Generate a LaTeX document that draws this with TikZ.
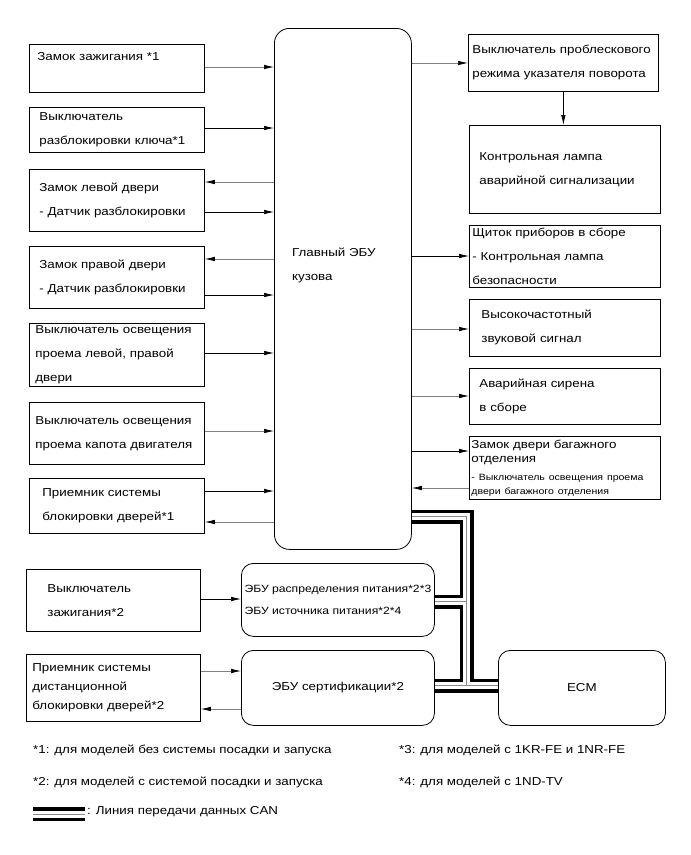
\documentclass[tikz,border=0pt]{standalone}
\usepackage{fontspec}
\setmainfont{Liberation Sans}[FakeStretch=1.16]
\usetikzlibrary{arrows.meta, positioning}
\pgfdeclarelayer{bg}
\pgfsetlayers{bg,main}

\begin{document}
\begin{tikzpicture}[
    x=1pt, y=-1pt,
    lbox/.style={rectangle, draw=black, line width=0.8pt, anchor=north west,
      inner xsep=8pt, inner ysep=0pt, text width=159pt, align=left,
      font=\fontsize{11.5}{24}\selectfont},
    rbox/.style={lbox, text width=175pt},
    ecubox/.style={rectangle, draw=black, line width=0.8pt, rounded corners=12pt,
      anchor=north west, inner xsep=3pt, inner ysep=0pt,
      font=\fontsize{10.5}{22}\selectfont},
    note/.style={anchor=west, inner sep=0pt, font=\fontsize{11.5}{14}\selectfont},
    arw/.style={line width=0.7pt, -{Latex[length=10pt,width=4.5pt,color=black]}},
    arwl/.style={arw, draw=black!50},
    canout/.style={line width=14pt, black},
    canin/.style={line width=7pt, white},
    canmid/.style={line width=0.8pt, black!45}
  ]
  \useasboundingbox (0,0) rectangle (691,855);

  % --- MAIN ECU ---
  \node[ecubox, rounded corners=15pt, minimum width=137pt, minimum height=521pt] (ecu) at (274,28) {};
  \node[note, align=left, font=\fontsize{11.5}{24}\selectfont] (ecutxt) at (292,265) {Главный ЭБУ\\кузова};

  % --- INPUTS (LEFT) ---
  \node[lbox, minimum height=48pt] (b1) at (29,44) {Замок зажигания *1\\\mbox{}};
  \node[lbox, minimum height=45pt, inner xsep=10pt, text width=155pt] (b2) at (29,107) {Выключатель\\разблокировки ключа*1};
  \node[lbox, minimum height=62pt, inner xsep=10pt, text width=155pt] (b3) at (29,169) {Замок левой двери\\- Датчик разблокировки};
  \node[lbox, minimum height=62pt, inner xsep=10pt, text width=155pt] (b4) at (29,246) {Замок правой двери\\- Датчик разблокировки};
  \node[lbox, minimum height=63pt, inner xsep=6pt, text width=163pt] (b5) at (29,323) {Выключатель освещения\\проема левой, правой\\двери};
  \node[lbox, minimum height=62pt, inner xsep=6pt, text width=163pt] (b6) at (29,402) {Выключатель освещения\\проема капота двигателя};
  \node[lbox, minimum height=55pt, inner xsep=13pt, text width=149pt] (b7) at (29,478) {Приемник системы\\блокировки дверей*1};
  \node[lbox, minimum height=62pt, inner xsep=21pt, text width=132pt] (b8) at (26,569) {Выключатель\\зажигания*2};
  \node[lbox, minimum height=67pt, inner xsep=6pt, text width=162pt,
    font=\fontsize{11.5}{19}\selectfont] (b9) at (26,654) {Приемник системы\\дистанционной\\блокировки дверей*2};

  % --- OUTPUTS (RIGHT) ---
  \node[rbox, minimum height=57pt, inner xsep=4pt, text width=182pt] (r1) at (468,34) {Выключатель проблескового\\режима указателя поворота};
  \node[rbox, minimum height=88pt, inner xsep=10pt, text width=171pt] (r2) at (469,125) {Контрольная лампа\\аварийной сигнализации};
  \node[rbox, minimum height=62pt, inner xsep=3pt, text width=185pt] (r3) at (469,225) {Щиток приборов в сборе\\- Контрольная лампа\\безопасности};
  \node[rbox, minimum height=57pt, inner xsep=12pt, text width=167pt] (r4) at (469,299) {Высокочастотный\\звуковой сигнал};
  \node[rbox, minimum height=56pt, inner xsep=10pt, text width=171pt] (r5) at (469,368) {Аварийная сирена\\в сборе};
  \node[rbox, minimum height=63pt, inner xsep=2pt, text width=187pt,
    font=\fontsize{11.5}{14}\selectfont] (r6) at (469,436) {Замок двери багажного\\отделения\\[4pt]{\fontsize{9.1}{13}\selectfont - Выключатель освещения проема}\\{\fontsize{9.1}{13}\selectfont двери багажного отделения}};

  % --- LOWER ECUS ---
  \node[ecubox, minimum width=193pt, minimum height=73pt, align=left] (pwr) at (241,563) {ЭБУ распределения питания*2*3\\ЭБУ источника питания*2*4};
  \node[ecubox, minimum width=193pt, minimum height=75pt, align=center, font=\fontsize{11.5}{14}\selectfont] (cert) at (241,650) {ЭБУ сертификации*2};
  \node[ecubox, minimum width=167pt, minimum height=75pt, align=center, font=\fontsize{11.5}{14}\selectfont] (ecm) at (498,650) {ECM};

  % --- ARROWS LEFT ---
  \draw[arwl] (b1.east |- 0,67) -- (ecu.west |- 0,67);
  \draw[arw] (b2.east |- 0,128) -- (ecu.west |- 0,128);
  \draw[arwl] (ecu.west |- 0,182) -- (b3.east |- 0,182);
  \draw[arw] (b3.east |- 0,212) -- (ecu.west |- 0,212);
  \draw[arwl] (ecu.west |- 0,259) -- (b4.east |- 0,259);
  \draw[arw] (b4.east |- 0,295) -- (ecu.west |- 0,295);
  \draw[arw] (b5.east |- 0,353) -- (ecu.west |- 0,353);
  \draw[arwl] (b6.east |- 0,431) -- (ecu.west |- 0,431);
  \draw[arw] (b7.east |- 0,491) -- (ecu.west |- 0,491);
  \draw[arwl] (ecu.west |- 0,522) -- (b7.east |- 0,522);
  \draw[arw] (b8.east |- 0,599) -- (pwr.west |- 0,599);
  \draw[arwl] (b9.east |- 0,671) -- (cert.west |- 0,671);
  \draw[arwl] (cert.west |- 0,709) -- (b9.east |- 0,709);

  % --- ARROWS RIGHT ---
  \draw[arwl] (ecu.east |- 0,63) -- (r1.west |- 0,63);
  \draw[arw] (r1.south) -- (r1.south |- r2.north);
  \draw[arw] (ecu.east |- 0,256) -- (r3.west |- 0,256);
  \draw[arwl] (ecu.east |- 0,329) -- (r4.west |- 0,329);
  \draw[arwl] (ecu.east |- 0,396) -- (r5.west |- 0,396);
  \draw[arw] (ecu.east |- 0,451) -- (r6.west |- 0,451);
  \draw[arwl] (r6.west |- 0,488) -- (ecu.east |- 0,488);

  % --- CAN BUS ---
  \coordinate (busT) at (466.5,516.5);
  \coordinate (busP) at (466.5,601.5);
  \coordinate (busB) at (466.5,685.5);
  \coordinate (legA) at (33,814);
  \coordinate (legB) at (85,814);
  \begin{pgfonlayer}{bg}
    \foreach \s in {canout, canin, canmid} {
      \draw[\s] (ecu.east |- busT) -- (busT) -- (busB);
      \draw[\s] (pwr.east |- busP) -- (busP);
      \draw[\s] (cert.east |- busB) -- (ecm.west |- busB);
      \draw[\s] (legA) -- (legB);
    }
  \end{pgfonlayer}

  % --- NOTES ---
  \node[note] (n1) at (33,750) {*1: для моделей без системы посадки и запуска};
  \node[note] (n3) at (399,750) {*3: для моделей с 1KR-FE и 1NR-FE};
  \node[note] (n2) at (33,782) {*2: для моделей с системой посадки и запуска};
  \node[note] (n4) at (399,782) {*4: для моделей с 1ND-TV};
  \node[note] (lgd) at (87,812) {: Линия передачи данных CAN};

\end{tikzpicture}
\end{document}
